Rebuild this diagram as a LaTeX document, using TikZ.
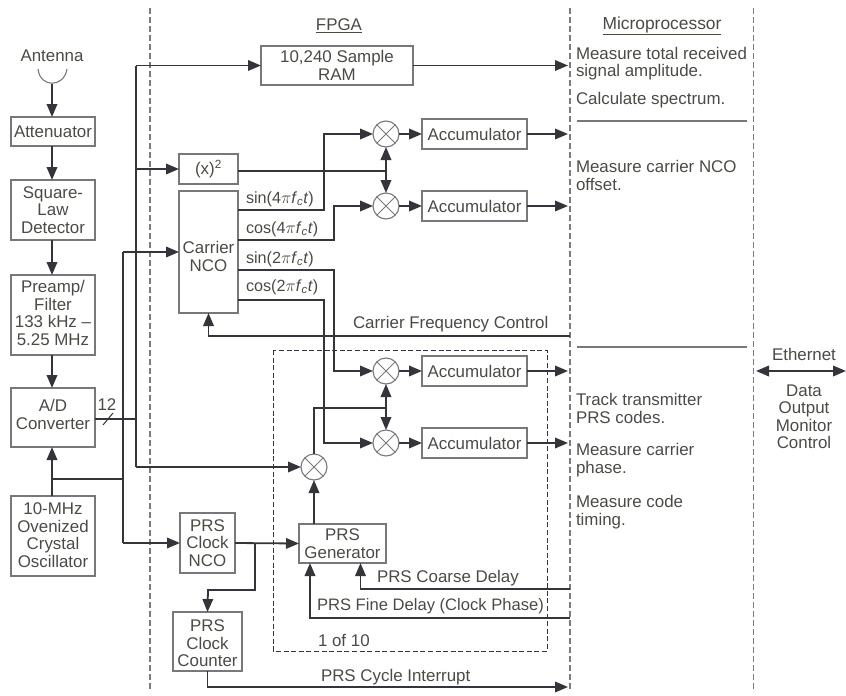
\documentclass[tikz,border=0pt]{standalone}
\usepackage{fontspec}
\setmainfont{Liberation Sans}
\usetikzlibrary{arrows.meta, positioning, calc}
\definecolor{rxink}{HTML}{33353b}
\definecolor{rxtext}{HTML}{4a4b45}
\definecolor{rxedge}{HTML}{77787a}
\definecolor{rxdash}{HTML}{7a7c80}
\newcommand{\pushdown}[1]{\rule{0pt}{#1}}
\newcommand{\pushup}[1]{\rule[-#1]{0pt}{#1}}

\begin{document}
\begin{tikzpicture}[
      x=1pt, y=-1pt, node distance=34pt,
      every node/.style={font=\fontsize{16.9}{17.5}\selectfont, text=rxtext, inner sep=0pt, outer sep=0pt},
      block/.style={rectangle, draw=rxedge, line width=1.1pt, align=center},
      leftblock/.style={block, minimum width=84pt},
      accum/.style={block, minimum width=105pt, minimum height=30pt},
      mixer/.style={circle, draw=rxedge, line width=1.1pt, minimum size=26pt,
                    path picture={\draw[rxedge, line width=1pt]
                      (path picture bounding box.north west) -- (path picture bounding box.south east)
                      (path picture bounding box.north east) -- (path picture bounding box.south west);}},
      note/.style={anchor=west, align=left},
      signal/.style={note, font=\fontsize{16.2}{17.5}\selectfont},
      arr/.style={-{Triangle[length=13pt, width=10.5pt]}, line width=1.8pt, color=rxink},
      wire/.style={line width=1.8pt, color=rxink},
      divider/.style={line width=1.1pt, color=rxdash, dash pattern=on 6pt off 3pt},
      rule/.style={line width=1.1pt, color=rxedge},
    ]
      \useasboundingbox (0,0) rectangle (846,696);

      % dividers and free ends
      \coordinate (cpu) at (568,0);
      \coordinate (cpuedge) at (570,0);
      \draw[divider] (150,8) -- (150,692);
      \draw[divider] (570,8) -- (570,692);
      \draw[divider] (753.5,8) -- (753.5,692);
      \draw[rule] (577,121) -- (747,121);
      \draw[rule] (577,347) -- (747,347);
      \draw[line width=0.9pt, color=rxink, dash pattern=on 5pt off 2.6pt] (273,350) rectangle (547.5,651);

      \node[anchor=center] (fpga) at (339,26) {\underline{FPGA}};
      \node[anchor=center, font=\fontsize{17.4}{17.5}\selectfont] (micro) at (662,26) {\underline{Microprocessor}};

      % receiver chain
      \node (antenna) at (52,56) {Antenna};
      \coordinate (dish) at (52,84);
      \draw[rxedge, line width=1.1pt] (38,69) .. controls (40,88) and (64,88) .. (67,69);
      \node[leftblock, minimum height=29pt] (atten) at (53,131.5) {Attenuator};
      \node[leftblock, minimum height=60pt, below=34pt of atten] (sqlaw) {Square-\\Law\\Detector};
      \node[leftblock, minimum height=80pt, below=35pt of sqlaw] (preamp) {Preamp/\\Filter\\133 kHz --\\5.25 MHz\pushup{4pt}};
      \node[leftblock, minimum height=59pt, below=33pt of preamp] (adc) {A/D\\Converter\pushup{6pt}};
      \node[leftblock, minimum height=80pt, below=49pt of adc] (osc) {10-MHz\\Ovenized\\Crystal\\Oscillator\pushup{2pt}};
      \node (bits) at (107,405) {12};

      \draw[arr] (dish) -- (dish |- atten.north);
      \draw[arr] (atten.south -| dish) -- (dish |- sqlaw.north);
      \draw[arr] (sqlaw.south -| dish) -- (dish |- preamp.north);
      \draw[arr] (preamp.south -| dish) -- (dish |- adc.north);
      \draw[arr] (osc.north -| dish) -- (dish |- adc.south);
      \coordinate (clock) at (52,479);
      \coordinate (tick) at (108,419);
      \draw[rxink, line width=1pt] ($(tick)+(-5,6)$) -- ($(tick)+(5,-6)$);

      % FPGA blocks
      \node[block, minimum width=152pt, minimum height=39pt] (ram) at (337,65.5) {10,240 Sample\\RAM};
      \node[block, minimum width=59pt, minimum height=30pt] (square) at (208.5,169) {(x)\textsuperscript{2}};
      \node[block, minimum width=59pt, minimum height=122pt, below=7pt of square] (nco) {\pushdown{21pt}Carrier\\NCO};
      \node[mixer] (mixa) at (386,134) {};
      \node[mixer, below=46pt of mixa] (mixb) {};
      \node[accum, right=23pt of mixa] (acca) {Accumulator};
      \node[accum, right=23pt of mixb] (accb) {Accumulator};
      \node[mixer] (mixc) at (386,371) {};
      \node[mixer, below=46pt of mixc] (mixd) {};
      \node[accum, right=23pt of mixc] (accc) {Accumulator};
      \node[accum, right=23pt of mixd] (accd) {Accumulator};
      \node[mixer] (mixe) at (314,467) {};
      \node[block, minimum width=87pt, minimum height=39pt] (gen) at (342.5,543.5) {PRS\\Generator};
      \node[block, minimum width=55pt, minimum height=60pt] (prsnco) at (207.5,543) {PRS\\Clock\\NCO};
      \node[block, minimum width=69pt, minimum height=59pt, below=39pt of prsnco] (prscount) {\pushdown{16pt}PRS\\Clock\\Counter};

      % signal labels
      \node[signal] (sina) at (246,199) {sin(4$\pi$\textit{f}\textsubscript{\textit{c}}\textit{t})};
      \node[signal] (cosa) at (246,229) {cos(4$\pi$\textit{f}\textsubscript{\textit{c}}\textit{t})};
      \node[signal] (sinb) at (246,259) {sin(2$\pi$\textit{f}\textsubscript{\textit{c}}\textit{t})};
      \node[signal] (cosb) at (246,287) {cos(2$\pi$\textit{f}\textsubscript{\textit{c}}\textit{t})};
      \node[note] (cfc) at (353,324) {Carrier Frequency Control};
      \node[note] (coarse) at (377,578) {PRS Coarse Delay};
      \node[note, font=\fontsize{16.6}{17.5}\selectfont] (fine) at (317,606.5) {PRS Fine Delay (Clock Phase)};
      \node[note] (oneof) at (318,640) {1 of 10};
      \node[note] (cycle) at (321,677.5) {PRS Cycle Interrupt};

      % microprocessor and outside
      \node[note] (meastotal) at (576,63.5) {Measure total received\\signal amplitude.};
      \node[note] (calc) at (576,100) {Calculate spectrum.};
      \node[note] (measnco) at (576,175.5) {Measure carrier NCO\\offset.};
      \node[note] (track) at (576,408.5) {Track transmitter\\PRS codes.};
      \node[note] (measphase) at (576,460) {Measure carrier\\phase.};
      \node[note] (meascode) at (576,512) {Measure code\\timing.};
      \node[anchor=center] (eth) at (804,354) {Ethernet};
      \node[align=center] (dataout) at (804,417) {Data\\Output\\Monitor\\Control};

      % bus wires
      \coordinate (busa) at (136,0);
      \coordinate (busb) at (123,0);
      \coordinate (adcout) at (95,419);
      \draw[wire] (adc.east |- adcout) -- (busa |- adcout);
      \draw[wire] (busa |- ram) -- (busa |- mixe);
      \draw[wire] (clock) -- (busb |- clock);
      \draw[wire] (busb |- nco) -- (busb |- prsnco);
      \draw[arr] (busa |- ram) -- (ram.west);
      \draw[arr] (busa |- square) -- (square.west);
      \draw[arr] (busb |- nco) -- (nco.west);
      \draw[arr] (busb |- prsnco) -- (prsnco.west);
      \draw[arr] (busa |- mixe) -- (mixe.west);
      \draw[arr] (ram.east) -- (ram.east -| cpu);

      % carrier paths
      \coordinate (jointa) at (386,171);
      \coordinate (sq) at (238,171);
      \draw[wire] (sq) -- (jointa);
      \draw[arr] (jointa) -- (mixa.south);
      \draw[arr] (jointa) -- (mixb.north);
      \coordinate (ncoa) at (238,210);
      \coordinate (ncob) at (238,240);
      \coordinate (ncoc) at (238,270);
      \coordinate (ncod) at (238,300);
      \draw[arr] (ncoa) -| (324,134) -- (mixa.west);
      \draw[arr] (ncob) -| (334,206) -- (mixb.west);
      \draw[arr] (ncoc) -| (334,371) -- (mixc.west);
      \draw[arr] (ncod) -| (324,443) -- (mixd.west);
      \foreach \m/\a in {mixa/acca, mixb/accb, mixc/accc, mixd/accd} {
        \draw[arr] (\m.east) -- (\a.west);
        \draw[arr] (\a.east) -- (\a.east -| cpu);
      }
      \coordinate (cfcend) at (570,336);
      \draw[arr] (cfcend) -| (nco.south);

      % code paths
      \coordinate (jointb) at (386,408);
      \draw[wire] (mixe.north) |- (jointb);
      \draw[arr] (jointb) -- (mixc.south);
      \draw[arr] (jointb) -- (mixd.north);
      \draw[arr] (gen.north -| mixe) -- (mixe.south);
      \draw[arr] (prsnco.east) -- (gen.west);
      \coordinate (branch) at (255,544);
      \draw[arr] (branch) |- (208,590) -- (prscount.north);
      \coordinate (coarseend) at (570,589);
      \coordinate (fineend) at (570,618);
      \draw[arr] (coarseend) -| ($(gen.south)+(18,0)$);
      \draw[arr] (fineend) -| ($(gen.south)+(-32.5,0)$);
      \draw[arr] (prscount.south) |- (cpu |- 0,687);
      \coordinate (lan) at (756,371);
      \coordinate (lanout) at (846,371);
      \draw[wire, {Triangle[length=13pt, width=10.5pt]}-{Triangle[length=13pt, width=10.5pt]}] (lan) -- (lanout);
    \end{tikzpicture}
\end{document}
